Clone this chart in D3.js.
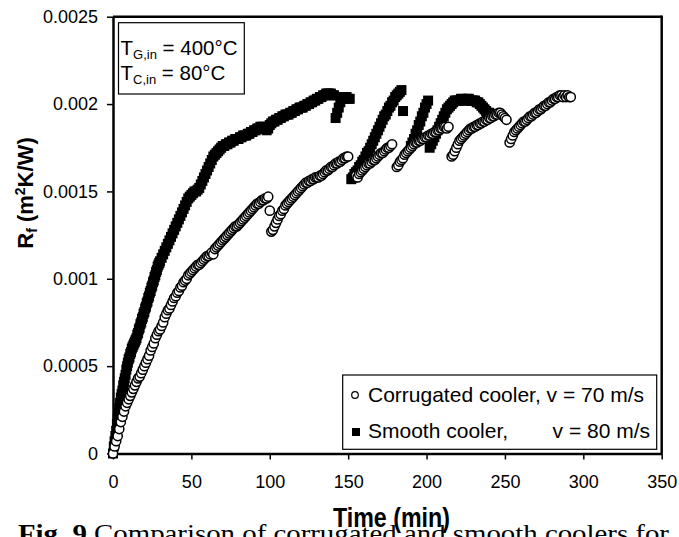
<!DOCTYPE html>
<html>
<head>
<meta charset="utf-8">
<script src="https://cdn.jsdelivr.net/npm/d3@7"></script>
<style>
body { margin: 0; background: #fff; }
svg { display: block; font-family: "Liberation Sans", Arial, sans-serif; }
</style>
</head>
<body>
<svg id="chart" width="679" height="537"></svg>
<script>
// time axis / Rf axis ticks
var xTicks = [0, 50, 100, 150, 200, 250, 300, 350];
var yTicks = [0, 0.0005, 0.001, 0.0015, 0.002, 0.0025];
var yTickLabels = ["0", "0.0005", "0.001", "0.0015", "0.002", "0.0025"];

// corrugated cooler, v = 70 m/s : segment start (min), 1 min sampling
var corrStart = [0, 100, 155, 181, 216, 253];
var corrRf = [
  [0, 0.00004, 0.00007, 0.0001, 0.00014, 0.00018, 0.00021, 0.00024, 0.00027, 0.00029,
   0.00031, 0.00033, 0.00035, 0.00037, 0.00039, 0.00041, 0.00043, 0.00044, 0.00046, 0.00048,
   0.0005, 0.00052, 0.00054, 0.00056, 0.00059, 0.00061, 0.00063, 0.00066, 0.00068, 0.0007,
   0.00071, 0.00073, 0.00075, 0.00078, 0.0008, 0.00082, 0.00083, 0.00085, 0.00087, 0.00089,
   0.0009, 0.00092, 0.00093, 0.00095, 0.00096, 0.00098, 0.00099, 0.001, 0.00102, 0.00103,
   0.00104, 0.00105, 0.00106, 0.00107, 0.00108, 0.00108, 0.00109, 0.0011, 0.00111, 0.00112,
   0.00113, 0.00113, 0.00114, 0.00115, 0.00114, 0.00117, 0.00118, 0.00119, 0.0012, 0.00121,
   0.00122, 0.00123, 0.00124, 0.00125, 0.00126, 0.00127, 0.00128, 0.00129, 0.0013, 0.0013,
   0.00131, 0.00132, 0.00133, 0.00134, 0.00135, 0.00136, 0.00137, 0.00138, 0.00139, 0.0014,
   0.00141, 0.00142, 0.00143, 0.00143, 0.00144, 0.00145, 0.00145, 0.00146, 0.00146, 0.00147],
  [0.00139, 0.00127, 0.00128, 0.0013, 0.00132, 0.00134, 0.00136, 0.00137, 0.00139, 0.0014,
   0.00142, 0.00143, 0.00144, 0.00145, 0.00146, 0.00147, 0.00148, 0.00149, 0.0015, 0.00151,
   0.00152, 0.00153, 0.00154, 0.00155, 0.00155, 0.00156, 0.00156, 0.00157, 0.00157, 0.00158,
   0.00158, 0.00158, 0.00159, 0.00159, 0.0016, 0.00161, 0.00162, 0.00162, 0.00163, 0.00164,
   0.00164, 0.00165, 0.00166, 0.00166, 0.00167, 0.00167, 0.00168, 0.00169, 0.00169, 0.0017, 0.0017],
  [0.00159, 0.00158, 0.0016, 0.00161, 0.00162, 0.00163, 0.00164, 0.00165, 0.00166, 0.00166,
   0.00167, 0.00168, 0.00168, 0.00169, 0.0017, 0.00171, 0.00172, 0.00172, 0.00173, 0.00174,
   0.00175, 0.00175, 0.00176, 0.00177],
  [0.00164, 0.00165, 0.00167, 0.00168, 0.00169, 0.00171, 0.00172, 0.00173, 0.00174, 0.00175,
   0.00176, 0.00177, 0.00178, 0.00178, 0.00179, 0.00179, 0.0018, 0.0018, 0.00181, 0.00181,
   0.00182, 0.00182, 0.00183, 0.00183, 0.00184, 0.00184, 0.00185, 0.00185, 0.00186, 0.00186,
   0.00187, 0.00187, 0.00186, 0.00187],
  [0.0017, 0.00171, 0.00173, 0.00175, 0.00177, 0.00179, 0.0018, 0.00181, 0.00182, 0.00183,
   0.00184, 0.00185, 0.00186, 0.00186, 0.00187, 0.00187, 0.00188, 0.00188, 0.00189, 0.00189,
   0.0019, 0.0019, 0.00191, 0.00191, 0.00192, 0.00192, 0.00193, 0.00193, 0.00194, 0.00194,
   0.00195, 0.00195, 0.00194, 0.00193, 0.00192, 0.00191],
  [0.00178, 0.0018, 0.00182, 0.00184, 0.00185, 0.00186, 0.00187, 0.00188, 0.00189, 0.0019,
   0.0019, 0.00191, 0.00192, 0.00193, 0.00193, 0.00194, 0.00195, 0.00195, 0.00196, 0.00197,
   0.00197, 0.00198, 0.00199, 0.00199, 0.002, 0.00201, 0.00201, 0.00202, 0.00203, 0.00203,
   0.00204, 0.00204, 0.00205, 0.00205, 0.00204, 0.00205, 0.00204, 0.00205, 0.00204, 0.00204]
];

// smooth cooler, v = 80 m/s : segment start (min), sampling step (min)
var smoothStart = [0, 31, 152, 190, 202];
var smoothStep = [0.5, 1, 1, 1, 1];
var smoothRf = [
  [0, 0.00004, 0.00007, 0.0001, 0.00013, 0.00017, 0.0002, 0.00023, 0.00026, 0.00029,
   0.00032, 0.00034, 0.00036, 0.00039, 0.00041, 0.00043, 0.00045, 0.00048, 0.0005, 0.00052,
   0.00054, 0.00055, 0.00057, 0.00058, 0.0006, 0.00061, 0.00062, 0.00063, 0.00064, 0.00065,
   0.00066, 0.00068, 0.00069, 0.00071, 0.00072, 0.00074, 0.00075, 0.00077, 0.00078, 0.0008,
   0.00081, 0.00083, 0.00084, 0.00086, 0.00087, 0.00089, 0.0009, 0.00092, 0.00093, 0.00095,
   0.00096, 0.00098, 0.00099, 0.00101, 0.00102, 0.00104, 0.00105, 0.00107, 0.00108, 0.00109, 0.0011],
  [0.00112, 0.00114, 0.00116, 0.00118, 0.0012, 0.00122, 0.00124, 0.00126, 0.00128, 0.0013,
   0.00132, 0.00134, 0.00136, 0.00138, 0.0014, 0.00142, 0.00144, 0.00146, 0.00147, 0.00148,
   0.00149, 0.0015, 0.0015, 0.00151, 0.00152, 0.00154, 0.00156, 0.00158, 0.0016, 0.00162,
   0.00164, 0.00166, 0.00168, 0.0017, 0.00171, 0.00172, 0.00173, 0.00174, 0.00175, 0.00176,
   0.00176, 0.00177, 0.00177, 0.00178, 0.00178, 0.00179, 0.00179, 0.0018, 0.0018, 0.0018,
   0.00181, 0.00181, 0.00182, 0.00182, 0.00182, 0.00183, 0.00183, 0.00184, 0.00184, 0.00185,
   0.00185, 0.00186, 0.00186, 0.00187, 0.00187, 0.00187, 0.00186, 0.00185, 0.00186, 0.00188,
   0.00189, 0.0019, 0.0019, 0.00191, 0.00191, 0.00192, 0.00192, 0.00193, 0.00193, 0.00194,
   0.00194, 0.00194, 0.00195, 0.00195, 0.00196, 0.00196, 0.00197, 0.00197, 0.00198, 0.00198,
   0.00198, 0.00199, 0.00199, 0.002, 0.002, 0.00201, 0.00201, 0.00202, 0.00202, 0.00203,
   0.00203, 0.00204, 0.00204, 0.00205, 0.00205, 0.00206, 0.00206, 0.00206, 0.00206, 0.00205,
   0.00205, 0.00192, 0.00195, 0.00198, 0.00201, 0.00203, 0.00204, 0.00204, 0.00204, 0.00203, 0.00203],
  [0.00157, 0.00158, 0.0016, 0.00161, 0.00162, 0.00164, 0.00165, 0.00167, 0.00168, 0.0017,
   0.00172, 0.00173, 0.00175, 0.00177, 0.00179, 0.00181, 0.00183, 0.00185, 0.00187, 0.00189,
   0.00191, 0.00193, 0.00194, 0.00196, 0.00198, 0.00199, 0.00201, 0.00202, 0.00204, 0.00205,
   0.00206, 0.00207, 0.00208, 0.00196],
  [0.00176, 0.00178, 0.0018, 0.00183, 0.00185, 0.00188, 0.0019, 0.00193, 0.00195, 0.00198, 0.002, 0.00202],
  [0.00175, 0.00177, 0.00179, 0.00181, 0.00183, 0.00185, 0.00187, 0.00189, 0.00191, 0.00193,
   0.00195, 0.00197, 0.00198, 0.00199, 0.002, 0.00201, 0.00202, 0.00202, 0.00202, 0.00202,
   0.00203, 0.00203, 0.00202, 0.00202, 0.00203, 0.00203, 0.00202, 0.00202, 0.00202, 0.00202,
   0.00201, 0.00201, 0.002, 0.00199, 0.00198, 0.00197, 0.00196, 0.00195, 0.00195, 0.00194]
];

var corrPoints = [];
corrRf.forEach((seg, s) => seg.forEach((v, i) => corrPoints.push({t: corrStart[s] + i, rf: v})));
var smoothPoints = [];
smoothRf.forEach((seg, s) => seg.forEach((v, i) => smoothPoints.push({t: smoothStart[s] + i * smoothStep[s], rf: v})));

var svg = d3.select('svg#chart');

var x = d3.scaleLinear().domain([0, 350]).range([113, 661.7]);
var y = d3.scaleLinear().domain([0, 0.0025]).range([453.5, 16.7]);

// frame top / right
svg.append("line")
  .attr('x1', x(0)).attr('y1', y(0.0025))
  .attr('x2', x(350)).attr('y2', y(0.0025))
  .attr("stroke", "#000").attr("stroke-width", 2.5);
svg.append("line")
  .attr('x1', x(350)).attr('y1', y(0.0025) - 1.2)
  .attr('x2', x(350)).attr('y2', y(0))
  .attr("stroke", "#000").attr("stroke-width", 2.5);

var xAxis = svg.append('g')
  .attr('transform', 'translate(0,' + y(0) + ')')
  .call(d3.axisBottom(x).tickValues(xTicks).tickSize(6).tickSizeOuter(0).tickPadding(16));
var yAxis = svg.append('g')
  .attr('transform', 'translate(' + x(0) + ',0)')
  .call(d3.axisLeft(y).tickValues(yTicks).tickFormat((d, i) => yTickLabels[i]).tickSize(6).tickSizeOuter(0).tickPadding(9));

[xAxis, yAxis].forEach(function(ax) {
  ax.select('.domain').attr('stroke', '#000').attr('stroke-width', 2.5);
  ax.selectAll('.tick line').attr('stroke', '#000').attr('stroke-width', 1.5);
  ax.selectAll('.tick text')
    .attr('fill', '#000')
    .attr('font-size', 18)
    .attr('font-family', '"Liberation Sans", Arial, sans-serif');
});

// smooth cooler squares
svg.append('g').selectAll('rect').data(smoothPoints).enter().append('rect')
  .attr('x', d => x(d.t) - 5)
  .attr('y', d => y(d.rf) - 5)
  .attr('width', 10)
  .attr('height', 10)
  .attr('fill', '#000');

// corrugated cooler circles
svg.append('g').selectAll('circle').data(corrPoints).enter().append('circle')
  .attr('cx', d => x(d.t))
  .attr('cy', d => y(d.rf))
  .attr('r', 4.6)
  .attr('fill', '#fff')
  .attr('stroke', '#000')
  .attr('stroke-width', 1.5);

// inlet temperature box
svg.append('rect')
  .attr('x', 118.5).attr('y', 22.7).attr('width', 125.8).attr('height', 71.3)
  .attr('fill', '#fff').attr('stroke', '#000').attr('stroke-width', 1.2);
var t1 = svg.append('text').attr('x', 120.5).attr('y', 55).attr('font-size', 20.5);
t1.append('tspan').text('T');
t1.append('tspan').attr('font-size', 13).attr('baseline-shift', -4).text('G,in');
t1.append('tspan').text(' = 400°C');
var t2 = svg.append('text').attr('x', 120.5).attr('y', 80).attr('font-size', 20.5);
t2.append('tspan').text('T');
t2.append('tspan').attr('font-size', 13).attr('baseline-shift', -4).text('C,in');
t2.append('tspan').text(' = 80°C');

// legend
svg.append('rect')
  .attr('x', 342.7).attr('y', 375).attr('width', 314).attr('height', 74.3)
  .attr('fill', '#fff').attr('stroke', '#000').attr('stroke-width', 1.2);
svg.append('circle')
  .attr('cx', 355).attr('cy', 395).attr('r', 3.3)
  .attr('fill', '#fff').attr('stroke', '#000').attr('stroke-width', 1.2);
svg.append('text').attr('x', 368).attr('y', 401.5).attr('font-size', 21)
  .text('Corrugated cooler, v = 70 m/s');
svg.append('rect')
  .attr('x', 352).attr('y', 428).attr('width', 8).attr('height', 8).attr('fill', '#000');
svg.append('text').attr('x', 368).attr('y', 438).attr('font-size', 21)
  .text('Smooth cooler,');
svg.append('text').attr('x', 650).attr('y', 438).attr('font-size', 21).attr('text-anchor', 'end')
  .text('v = 80 m/s');

// caption of the figure (cut by the bottom edge)
var cap = svg.append('text')
  .attr('x', 18).attr('y', 542)
  .attr('font-family', '"Liberation Serif", "Times New Roman", serif')
  .attr('font-size', 25)
  .attr('textLength', 651).attr('lengthAdjust', 'spacingAndGlyphs');
cap.append('tspan').attr('font-weight', 'bold').text('Fig. 9');
cap.append('tspan').text(' Comparison of corrugated and smooth coolers for');

// axis titles
svg.append('text')
  .attr('x', 391.5).attr('y', 526.5)
  .attr('text-anchor', 'middle')
  .attr('font-weight', 'bold')
  .attr('font-size', 28)
  .attr('textLength', 117).attr('lengthAdjust', 'spacingAndGlyphs')
  .text('Time (min)');

var yt = svg.append('text')
  .attr('transform', 'translate(33,193) rotate(-90)')
  .attr('text-anchor', 'middle')
  .attr('font-weight', 'bold')
  .attr('font-size', 22);
yt.append('tspan').text('R');
yt.append('tspan').attr('font-size', 14).attr('baseline-shift', -4).text('f');
yt.append('tspan').text(' (m');
yt.append('tspan').attr('font-size', 14).attr('baseline-shift', 8).text('2');
yt.append('tspan').text('K/W)');
</script>
</body>
</html>
